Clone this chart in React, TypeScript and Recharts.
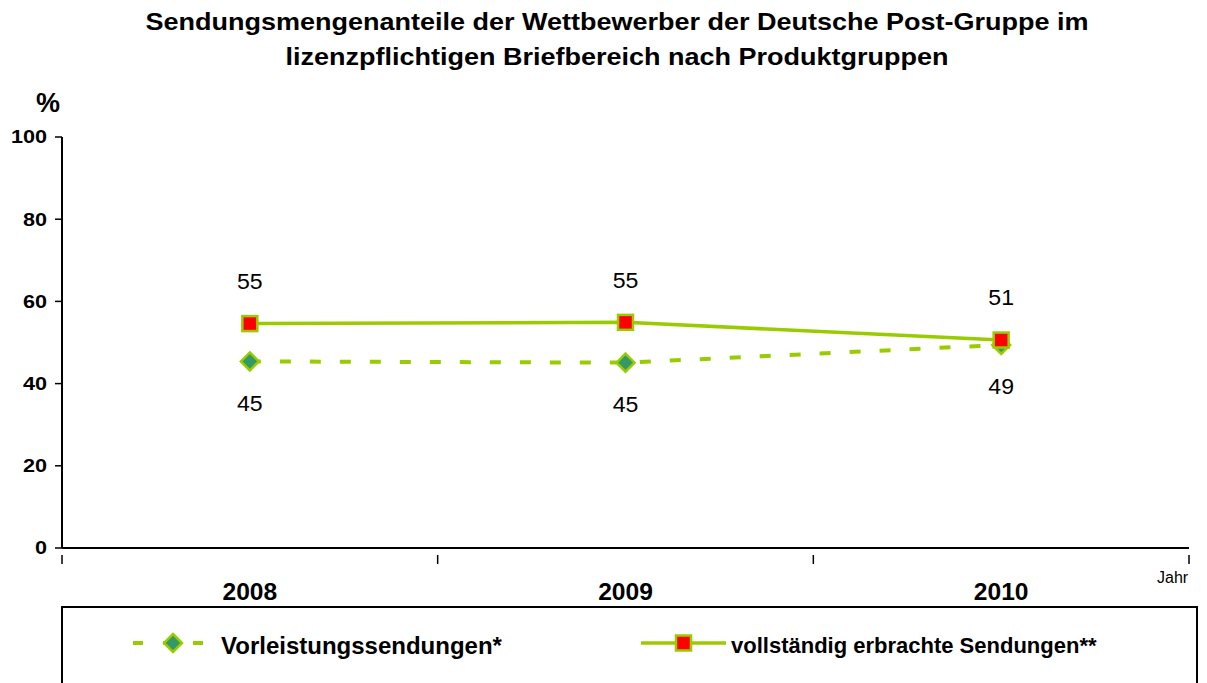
import React from 'react';
import { LineChart, Line, XAxis, YAxis, LabelList } from 'recharts';

const years = ['2008', '2009', '2010'];
const vorleistung = [45.4, 45.1, 49.4];
const vollstaendig = [54.6, 54.9, 50.6];
const yTicks = [0, 20, 40, 60, 80, 100];
const seriesNames = ['Vorleistungssendungen*', 'vollständig erbrachte Sendungen**'];

const GREEN = '#99CC00';
const TEAL = '#339966';
const RED = '#FF0000';
const FONT = '"Liberation Sans", Arial, sans-serif';

const data = years.map((y, i) => ({ x: i + 0.5, year: y, vor: vorleistung[i], voll: vollstaendig[i] }));
const xTicks: number[] = [];
for (let i = 0; i <= years.length; i++) {
  xTicks.push(i);
  if (i < years.length) xTicks.push(i + 0.5);
}

const SText = ({ x, y, sx = 1, anchor = 'middle', size, bold = false, children }: any) => (
  <text
    transform={`translate(${x},${y}) scale(${sx},1)`}
    x={0}
    y={0}
    textAnchor={anchor}
    dominantBaseline="central"
    fontFamily={FONT}
    fontWeight={bold ? 'bold' : 'normal'}
    fontSize={size}
    fill="#000"
  >
    {children}
  </text>
);

const XTick = (props: any) => {
  const { x, y, payload } = props;
  const v = payload.value;
  if (Number.isInteger(v)) {
    return <line x1={x} x2={x} y1={y - 1} y2={y + 8} stroke="#000" strokeWidth={1.5} />;
  }
  const idx = Math.floor(v);
  return (
    <SText x={x} y={y + 36} size={23} sx={1.07} bold>
      {years[idx]}
    </SText>
  );
};

const YTick = (props: any) => {
  const { x, y, payload } = props;
  return (
    <SText x={x} y={y} size={18} sx={1.2} anchor="end" bold>
      {payload.value}
    </SText>
  );
};

const Square = (props: any) => {
  const { cx, cy } = props;
  if (cx == null || cy == null) return null;
  return <rect x={cx - 7.5} y={cy - 7.5} width={15} height={15} fill={RED} stroke={GREEN} strokeWidth={2.5} />;
};

const Diamond = (props: any) => {
  const { cx, cy } = props;
  if (cx == null || cy == null) return null;
  const r = 9;
  return (
    <polygon
      points={`${cx},${cy - r} ${cx + r},${cy} ${cx},${cy + r} ${cx - r},${cy}`}
      fill={TEAL}
      stroke={GREEN}
      strokeWidth={2.5}
    />
  );
};

const makeLabel = (dir: number) => (props: any) => {
  const { x, y, value } = props;
  return (
    <SText x={x} y={y + dir * 42} size={22} sx={1.05}>
      {Math.round(value)}
    </SText>
  );
};

export default function App() {
  return (
    <div style={{ position: 'absolute', left: 0, top: 0, width: 1207, height: 683, background: '#fff', fontFamily: FONT, overflow: 'hidden' }}>
      <div style={{ position: 'absolute', left: 17, width: 1200, top: 4, textAlign: 'center', fontWeight: 'bold', fontSize: 24, lineHeight: '35px', color: '#000', transform: 'scaleX(1.125)', transformOrigin: '600px 0' }}>
        Sendungsmengenanteile der Wettbewerber der Deutsche Post-Gruppe im
        <br />
        lizenzpflichtigen Briefbereich nach Produktgruppen
      </div>
      <div style={{ position: 'absolute', left: 0, top: 0 }}>
        <LineChart width={1207} height={683} data={data} margin={{ top: 137, right: 18, left: 12, bottom: 95 }}>
          <YAxis
            type="number"
            domain={[0, 100]}
            ticks={yTicks}
            width={50}
            tickSize={7}
            tickMargin={8}
            axisLine={{ stroke: '#000', strokeWidth: 2 }}
            tickLine={{ stroke: '#000', strokeWidth: 1.5 }}
            tick={<YTick />}
          />
          <XAxis
            dataKey="x"
            type="number"
            domain={[0, years.length]}
            ticks={xTicks}
            height={40}
            tickLine={false}
            axisLine={{ stroke: '#000', strokeWidth: 2 }}
            tick={<XTick />}
            interval={0}
          />
          <Line
            dataKey="vor"
            stroke={GREEN}
            strokeWidth={4}
            strokeDasharray="11 19"
            dot={<Diamond />}
            isAnimationActive={false}
          >
            <LabelList dataKey="vor" content={makeLabel(1)} />
          </Line>
          <Line
            dataKey="voll"
            stroke={GREEN}
            strokeWidth={3.5}
            dot={<Square />}
            isAnimationActive={false}
          >
            <LabelList dataKey="voll" content={makeLabel(-1)} />
          </Line>
        </LineChart>
      </div>
      <div style={{ position: 'absolute', left: 61, top: 606, width: 1137, height: 100, border: '2px solid #000', boxSizing: 'border-box' }} />
      <svg style={{ position: 'absolute', left: 0, top: 0 }} width={1207} height={683}>
        <SText x={48} y={103} size={27} bold>%</SText>
        <SText x={1157} y={577} size={16} anchor="start">Jahr</SText>
        <line x1={133} x2={205} y1={643} y2={643} stroke={GREEN} strokeWidth={4} strokeDasharray="10 20" />
        <polygon points="173,634 182,643 173,652 164,643" fill={TEAL} stroke={GREEN} strokeWidth={2.5} />
        <SText x={221} y={645} size={24} anchor="start" bold>{seriesNames[0]}</SText>
        <line x1={641} x2={726} y1={643} y2={643} stroke={GREEN} strokeWidth={3.5} />
        <rect x={676} y={635.5} width={15} height={15} fill={RED} stroke={GREEN} strokeWidth={2.5} />
        <SText x={731} y={645} size={22} anchor="start" bold>{seriesNames[1]}</SText>
      </svg>
    </div>
  );
}
